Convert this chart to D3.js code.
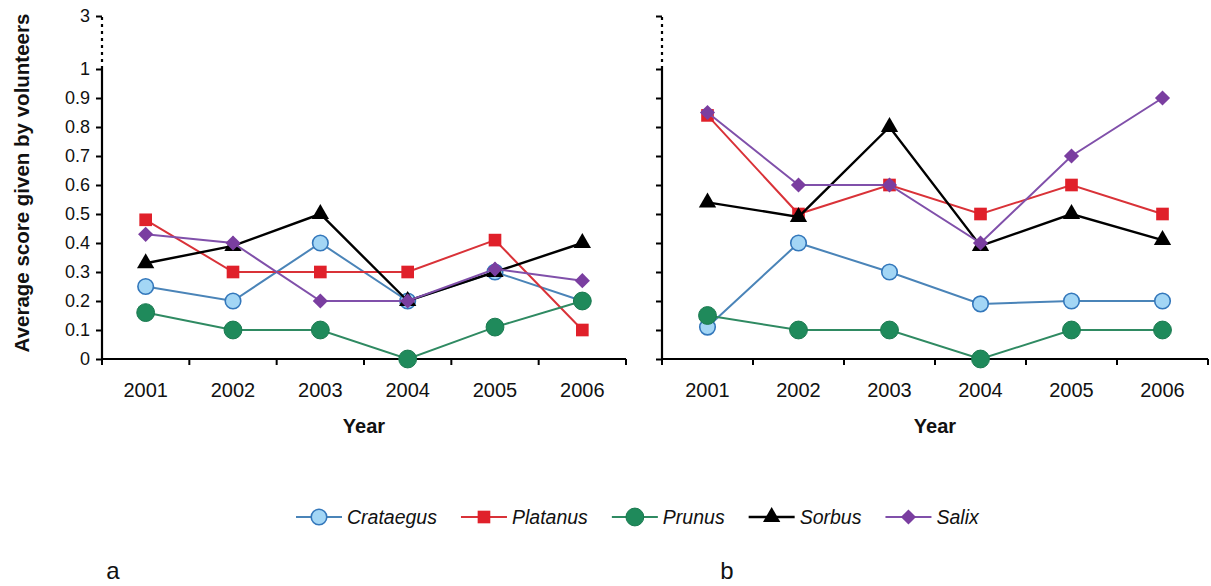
<!DOCTYPE html>
<html>
<head>
<meta charset="utf-8">
<script src="https://cdn.jsdelivr.net/npm/d3@7"></script>
<style>
  body { margin: 0; background: #fff; }
  svg { display: block; }
  text { font-family: Arial, "Liberation Sans", sans-serif; fill: #111; }
</style>
</head>
<body>
<svg id="chart" width="1211" height="586"></svg>
<script>
'use strict';

/******************** data ********************/

var years = ["2001", "2002", "2003", "2004", "2005", "2006"];
var yTicks = [0, 0.1, 0.2, 0.3, 0.4, 0.5, 0.6, 0.7, 0.8, 0.9, 1, 3];
var species = ["Crataegus", "Platanus", "Prunus", "Sorbus", "Salix"];

// panel a
var aCrataegus = [0.25, 0.20, 0.40, 0.20, 0.30, 0.20];
var aPlatanus  = [0.48, 0.30, 0.30, 0.30, 0.41, 0.10];
var aPrunus    = [0.16, 0.10, 0.10, 0.00, 0.11, 0.20];
var aSorbus    = [0.33, 0.39, 0.50, 0.20, 0.30, 0.40];
var aSalix     = [0.43, 0.40, 0.20, 0.20, 0.31, 0.27];

// panel b
var bCrataegus = [0.11, 0.40, 0.30, 0.19, 0.20, 0.20];
var bPlatanus  = [0.84, 0.50, 0.60, 0.50, 0.60, 0.50];
var bPrunus    = [0.15, 0.10, 0.10, 0.00, 0.10, 0.10];
var bSorbus    = [0.54, 0.49, 0.80, 0.39, 0.50, 0.41];
var bSalix     = [0.85, 0.60, 0.60, 0.40, 0.70, 0.90];

/******************** styles ********************/

var look = {
  Crataegus: { line: "#4a84b8", fill: "#a3d6f5", stroke: "#3377bb", sw: 1.6, symbol: d3.symbolCircle, size: 190, rot: 0 },
  Platanus:  { line: "#d93238", fill: "#e0202a", stroke: "#e0202a", sw: 0,   symbol: d3.symbolSquare, size: 160, rot: 0 },
  Prunus:    { line: "#2f8a62", fill: "#1f8a5b", stroke: "#1a7a50", sw: 1,   symbol: d3.symbolCircle, size: 250, rot: 0 },
  Sorbus:    { line: "#000000", fill: "#000000", stroke: "#000000", sw: 0,   symbol: d3.symbolTriangle, size: 130, rot: 0 },
  Salix:     { line: "#8050aa", fill: "#7a3ea0", stroke: "#7a3ea0", sw: 0,   symbol: d3.symbolSquare, size: 115, rot: 45 }
};

var svg = d3.select("#chart");

var y = d3.scaleLinear().domain([0, 1, 3]).range([359, 69, 16]);

function drawPanel(cols, x0, x1, showLabels, letter, letterX) {

  var g = svg.append("g").attr("class", "panel");
  var x = d3.scaleBand().domain(years).range([x0, x1]);
  var cx = function(d) { return x(d) + x.bandwidth() / 2; };

  /* y axis */
  var yAxis = d3.axisLeft(y).tickValues(yTicks).tickSize(6).tickPadding(6)
    .tickFormat(showLabels ? d3.format("") : "");
  var ya = g.append("g").attr("transform", "translate(" + x0 + ",0)").call(yAxis);
  ya.select(".domain").remove();
  ya.selectAll(".tick line").attr("stroke", "#000").attr("stroke-width", 2);
  ya.selectAll(".tick text").style("font-size", "18px").attr("fill", "#111");

  g.append("line")
    .attr("x1", x0).attr("x2", x0).attr("y1", y(0) + 1).attr("y2", y(1))
    .attr("stroke", "#000").attr("stroke-width", 2.2);
  g.append("line")
    .attr("x1", x0).attr("x2", x0).attr("y1", y(1)).attr("y2", y(3))
    .attr("stroke", "#000").attr("stroke-width", 2.2).attr("stroke-dasharray", "3,4");

  /* x axis */
  g.append("line")
    .attr("x1", x0).attr("x2", x1).attr("y1", y(0)).attr("y2", y(0))
    .attr("stroke", "#000").attr("stroke-width", 2.2);
  g.selectAll(".xtick").data(years.concat(["end"])).enter().append("line")
    .attr("class", "xtick")
    .attr("x1", function(d) { return d === "end" ? x1 : x(d); })
    .attr("x2", function(d) { return d === "end" ? x1 : x(d); })
    .attr("y1", y(0)).attr("y2", y(0) + 6)
    .attr("stroke", "#000").attr("stroke-width", 2);

  g.selectAll(".xlab").data(years).enter().append("text")
    .attr("class", "xlab")
    .attr("x", cx).attr("y", 397)
    .attr("text-anchor", "middle")
    .style("font-size", "20px")
    .text(function(d) { return d; });

  g.append("text")
    .attr("x", (x0 + x1) / 2).attr("y", 433)
    .attr("text-anchor", "middle")
    .style("font-size", "20px").style("font-weight", "bold")
    .text("Year");

  /* series */
  var line = d3.line()
    .x(function(d) { return cx(d.year); })
    .y(function(d) { return y(d.value); });

  species.forEach(function(name, i) {
    var st = look[name];
    var pts = years.map(function(yr, j) { return { year: yr, value: cols[i][j] }; });
    var sg = g.append("g").attr("class", "series " + name);
    sg.append("path").datum(pts)
      .attr("d", line).attr("fill", "none")
      .attr("stroke", st.line).attr("stroke-width", name === "Sorbus" ? 2.4 : 2);
    sg.selectAll("path.mark").data(pts).enter().append("path")
      .attr("class", "mark")
      .attr("d", d3.symbol().type(st.symbol).size(st.size))
      .attr("transform", function(d) {
        return "translate(" + cx(d.year) + "," + y(d.value) + ") rotate(" + st.rot + ")";
      })
      .attr("fill", st.fill)
      .attr("stroke", st.stroke).attr("stroke-width", st.sw);
  });

  svg.append("text")
    .attr("x", letterX).attr("y", 579)
    .attr("text-anchor", "middle")
    .style("font-size", "24px")
    .text(letter);
}

drawPanel([aCrataegus, aPlatanus, aPrunus, aSorbus, aSalix], 102, 626, true, "a", 113);
drawPanel([bCrataegus, bPlatanus, bPrunus, bSorbus, bSalix], 662, 1208, false, "b", 727);

/* y title */
svg.append("text")
  .attr("transform", "translate(29,183) rotate(-90)")
  .attr("text-anchor", "middle")
  .style("font-size", "20.5px").style("font-weight", "bold")
  .text("Average score given by volunteers");

/******************** legend ********************/

var legend = svg.append("g").attr("class", "legend");
var lx = 296;
species.forEach(function(name) {
  var st = look[name];
  var item = legend.append("g").attr("transform", "translate(" + lx + ",517)");
  item.append("line").attr("x1", 0).attr("x2", 46).attr("y1", 0).attr("y2", 0)
    .attr("stroke", st.line).attr("stroke-width", name === "Sorbus" ? 2.4 : 2);
  item.append("path")
    .attr("d", d3.symbol().type(st.symbol).size(st.size))
    .attr("transform", "translate(23,0) rotate(" + st.rot + ")")
    .attr("fill", st.fill).attr("stroke", st.stroke).attr("stroke-width", st.sw);
  var t = item.append("text")
    .attr("x", 51).attr("y", 7)
    .style("font-size", "19.5px").style("font-style", "italic")
    .text(name);
  lx += 51 + t.node().getComputedTextLength() + 24;
});
</script>
</body>
</html>
